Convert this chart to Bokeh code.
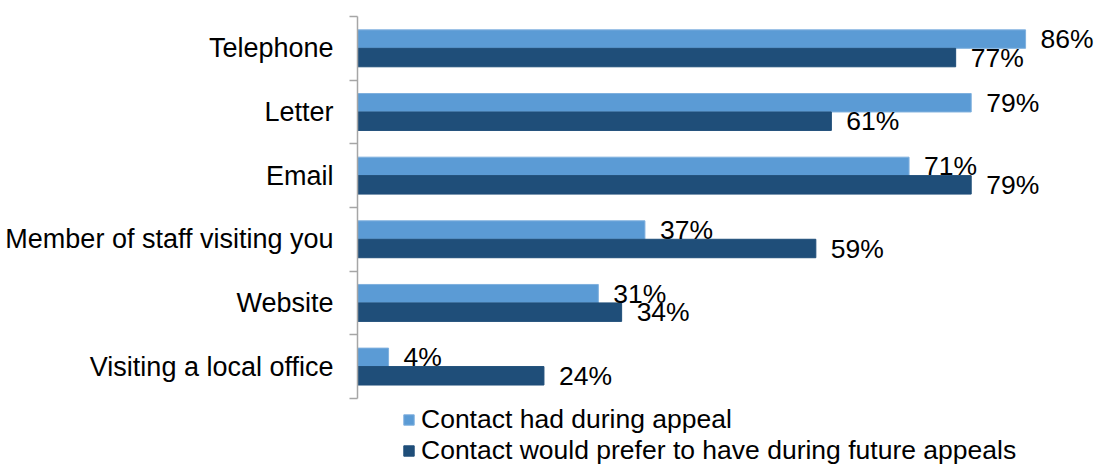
import numpy as np
from bokeh.plotting import figure
from bokeh.models import (ColumnDataSource, Range1d, FixedTicker, LinearAxis,
                          LabelSet, Legend, LegendItem)
from bokeh.core.properties import value
from bokeh.embed import file_html
from bokeh.resources import INLINE

categories = ["Telephone", "Letter", "Email", "Member of staff visiting you",
              "Website", "Visiting a local office"]
had_during = [86, 79, 71, 37, 31, 4]
would_prefer = [77, 61, 79, 59, 34, 24]
series_names = ["Contact had during appeal",
                "Contact would prefer to have during future appeals"]

LIGHT = "#5B9BD5"
DARK = "#1F4E79"
FONT = "Liberation Sans"

n = len(categories)
centers = n - 0.5 - np.arange(n)
bar_h = 0.29
off = 0.145

src = ColumnDataSource(dict(
    cat=categories,
    y=centers,
    y1=centers + off,
    y2=centers - off,
    had=had_during,
    pref=would_prefer,
    had_lbl=[f"{v}%" for v in had_during],
    pref_lbl=[f"{v}%" for v in would_prefer],
))

# frame extends below the categories to leave room for the legend
p = figure(width=1095, height=466, output_backend="svg", toolbar_location=None,
           x_range=Range1d(0, 95.0), y_range=Range1d(-1.07, n),
           min_border_left=357, min_border_right=0, min_border_top=16,
           min_border_bottom=0, y_axis_location=None, x_axis_location=None)
p.outline_line_color = None
p.xgrid.visible = False
p.ygrid.visible = False

r1 = p.hbar(y="y1", left=0, right="had", height=bar_h, source=src,
            fill_color=LIGHT, line_color="#7FB0DE")
r2 = p.hbar(y="y2", left=0, right="pref", height=bar_h, source=src,
            fill_color=DARK, line_color=DARK)

yaxis = LinearAxis(
    ticker=FixedTicker(ticks=list(centers), minor_ticks=list(np.arange(n + 1))),
    major_label_overrides={float(c): cat for c, cat in zip(centers, categories)},
    bounds=(0, n),
)
yaxis.axis_line_color = "#A6A6A6"
yaxis.axis_line_width = 1.5
yaxis.major_tick_line_color = None
yaxis.major_tick_out = 0
yaxis.major_tick_in = 0
yaxis.minor_tick_line_color = "#A6A6A6"
yaxis.minor_tick_line_width = 1.5
yaxis.minor_tick_out = 8
yaxis.minor_tick_in = 0
yaxis.major_label_standoff = 16
yaxis.major_label_text_font = FONT
yaxis.major_label_text_font_size = "27px"
yaxis.major_label_text_color = "#000000"
p.add_layout(yaxis, "left")

lab1 = LabelSet(x="had", y="y1", text="had_lbl", source=src, x_offset=15,
                text_baseline="middle", text_font=value(FONT),
                text_font_size="26.5px", text_color="#000000")
lab2 = LabelSet(x="pref", y="y2", text="pref_lbl", source=src, x_offset=15,
                text_baseline="middle", text_font=value(FONT),
                text_font_size="26.5px", text_color="#000000")
p.add_layout(lab1)
p.add_layout(lab2)

legend = Legend(items=[LegendItem(label=series_names[0], renderers=[r1]),
                       LegendItem(label=series_names[1], renderers=[r2])],
                location=(45, 0))
legend.glyph_width = 13
legend.glyph_height = 13
legend.label_standoff = 6
legend.label_height = 26
legend.spacing = 0
legend.padding = 0
legend.margin = 0
legend.border_line_color = None
legend.background_fill_alpha = 0
legend.label_text_font = FONT
legend.label_text_font_size = "26.5px"
legend.label_text_color = "#000000"
p.add_layout(legend, "center")

open("out.html", "w").write(file_html(p, INLINE))
